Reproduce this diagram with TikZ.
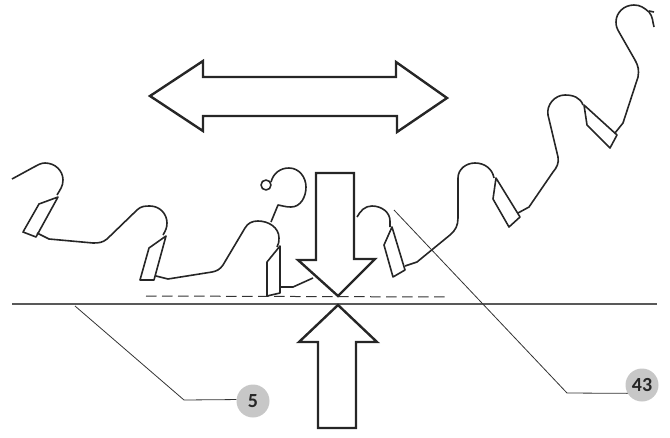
\documentclass[tikz,border=0pt]{standalone}
\usepackage{fontspec}
\setmainfont{Carlito}
\tikzset{
  bigarrow/.style={draw=black!85, line width=2.4pt, line join=miter},
  strip/.style={draw=black!85, line width=1.6pt, line join=round},
  leader/.style={draw=black!80, line width=0.8pt},
  callout/.style={circle, fill=black!22, text=black!85, inner sep=0pt, minimum size=33pt, font=\bfseries\fontsize{20}{20}\selectfont}
}
\begin{document}
\begin{tikzpicture}[x=1pt, y=-1pt]
\useasboundingbox (0,0) rectangle (670,437);
% ground line
\draw[draw=black!65, line width=1.3pt] (12,304) -- (657,304);
\draw[dash pattern=on 10.5pt off 5.5pt, draw=black!80, line width=1pt] (146,296) -- (448,297);
% arrows
\draw[bigarrow] (150,96) -- (203,61) -- (203,77) -- (396,77) -- (396,62) -- (447,98) -- (397,132) -- (397,116) -- (203,116) -- (203,131) -- cycle;
\draw[bigarrow] (316,173) -- (354,173) -- (354,259) -- (375,259) -- (338,296) -- (298,260) -- (316,260) -- cycle;
\draw[bigarrow] (338,305) -- (377,342) -- (356,342) -- (356,428) -- (318,428) -- (318,342) -- (299,342) -- cycle;
% strip, left part
\draw[strip] (12,179) -- (34,167) to[out=25, in=180] (45,163) to[out=0, in=90] (63,180) to[out=-90, in=60] (57,195);
\draw[strip] (58,197) -- (39,204) -- (23,232) -- (36,237) -- cycle;
\draw[strip] (37,233) -- (49,239) -- (93,243) to[out=0, in=-140] (107,239) -- (137,210) to[out=45, in=180] (150,206) to[out=0, in=90] (167,223) to[out=-90, in=60] (163,235);
\draw[strip] (166,236) -- (149,248) -- (140,280) -- (154,280) -- cycle;
\draw[strip] (156,276) -- (168,279) -- (212,272) to[out=10, in=-125] (223,265) -- (245,228) to[out=60, in=180] (258,221) to[out=0, in=90] (279,238) to[out=-90, in=60] (277,247);
\draw[strip] (280,246) -- (267,262) -- (267,296) -- (280,293) -- cycle;
\draw[strip] (281,287) -- (293,287) -- (313,278);
% small hook
\draw[strip] (266,185) circle (5);
\draw[strip] (271,182) to[out=75, in=180] (289,168) to[out=0, in=90] (306,187) to[out=-90, in=0] (291,207) to[out=180, in=-10] (278,205) -- (271,222);
% strip, right part
\draw[strip] (357,217) to[out=60, in=180] (372,206) to[out=0, in=90] (390,221) -- (390,227);
\draw[strip] (392,227) -- (384,245) -- (393,277) -- (405,270) -- cycle;
\draw[strip] (405,266) -- (417,262) -- (450,235) to[out=40, in=-90] (458,218) -- (458,178) to[out=90, in=180] (475,163) to[out=0, in=100] (494,178);
\draw[strip] (496,178) -- (493,199) -- (509,227) -- (520,217) -- cycle;
\draw[strip] (518,213) -- (529,207) -- (553,172) to[out=50, in=-80] (558,157) -- (548,115) to[out=100, in=180] (565,95) to[out=0, in=110] (583,105);
\draw[strip] (584,105) -- (587,125) -- (610,148) -- (617,135) -- cycle;
\draw[strip] (615,133) -- (623,123) -- (638,77) to[out=80, in=-60] (635,60) -- (619,32) to[out=120, in=-90] (616,22) to[out=90, in=180] (634,5) to[out=0, in=140] (649,12) to[out=-50, in=105] (654,27);
\draw[strip] (649,11) -- (654,12);
% callouts
\node[callout] (five) at (253,401) {5};
\node[callout] (fortythree) at (642,385) {43};
\coordinate (groundend) at (75,306);
\coordinate (stripend) at (394,210);
\draw[leader] (groundend) -- (184,400) -- (five.175);
\draw[leader] (stripend) -- (567,393) -- (fortythree.210);
\end{tikzpicture}
\end{document}
